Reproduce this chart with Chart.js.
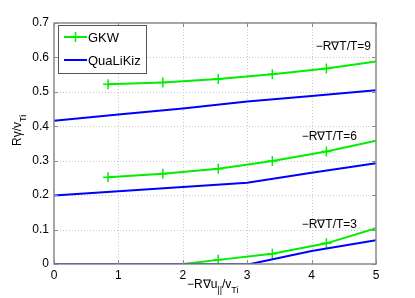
<!DOCTYPE html>
<html lang="en">
<head>
<meta charset="UTF-8">
<title>Growth rate vs rotation shear</title>
<script src="https://cdn.jsdelivr.net/npm/chart.js"></script>
<style>
  body { margin: 0; padding: 0; background: #fff; }
  #wrap { width: 415px; height: 298px; }
</style>
</head>
<body>
<div id="wrap"><canvas id="myChart"></canvas></div>
<script>
// axis ticks
const xTicks = [0, 1, 2, 3, 4, 5];
const yTicks = [0, 0.1, 0.2, 0.3, 0.4, 0.5, 0.6, 0.7];

// GKW (green, + markers)
const gkw9X = [0.84, 1.69, 2.55, 3.39, 4.23, 5.0];
const gkw9Y = [0.522, 0.527, 0.537, 0.551, 0.568, 0.588];
const gkw6X = [0.84, 1.69, 2.55, 3.39, 4.23, 5.0];
const gkw6Y = [0.252, 0.262, 0.277, 0.299, 0.327, 0.358];
const gkw3X = [2.0, 2.55, 3.39, 4.23, 5.0];
const gkw3Y = [0, 0.012, 0.030, 0.060, 0.104];

// QuaLiKiz (blue)
const qlk9X = [0, 1, 2, 3, 4, 5];
const qlk9Y = [0.416, 0.434, 0.452, 0.472, 0.488, 0.505];
const qlk6X = [0, 1, 2, 3, 4, 5];
const qlk6Y = [0.199, 0.211, 0.224, 0.236, 0.265, 0.293];
const qlk3X = [0, 1, 2, 3.05, 4, 5];
const qlk3Y = [0, 0, 0, 0, 0.038, 0.069];

const seriesLabels = ['GKW', 'QuaLiKiz'];
const curveLabels = ['\u2212R\u2207T/T=9', '\u2212R\u2207T/T=6', '\u2212R\u2207T/T=3'];

const green = '#00ee00';
const blue = '#0000ff';
const FONT = '"Liberation Sans", Arial, sans-serif';

const pts = (xs, ys) => xs.map((x, i) => ({ x: x, y: ys[i] }));

function gkwSet(xs, ys) {
    return {
        label: seriesLabels[0],
        data: pts(xs, ys),
        borderColor: green,
        backgroundColor: green,
        borderWidth: 2,
        pointStyle: 'cross',
        // no marker where the curve is cut by the frame or sits on zero
        pointRadius: ctx => (ctx.raw && (ctx.raw.x >= 5 || ctx.raw.y === 0)) ? 0 : 5,
        pointBorderWidth: 1.5,
        tension: 0,
        order: 2
    };
}
function qlkSet(xs, ys) {
    return {
        label: seriesLabels[1],
        data: pts(xs, ys),
        borderColor: blue,
        backgroundColor: blue,
        borderWidth: 2,
        pointRadius: 0,
        tension: 0,
        order: 1
    };
}

// grid, frame, inward ticks, tick labels, axis titles, annotations, legend
const decor = {
    id: 'decor',
    beforeDatasetsDraw(chart) {
        const { ctx, chartArea: a, scales: { x, y } } = chart;
        ctx.save();
        ctx.strokeStyle = '#c8c8c8';
        ctx.lineWidth = 1;
        ctx.setLineDash([1, 2]);
        xTicks.forEach(v => {
            const px = Math.round(x.getPixelForValue(v)) + 0.5;
            if (v === 0 || v === 5) return;
            ctx.beginPath(); ctx.moveTo(px, a.top); ctx.lineTo(px, a.bottom); ctx.stroke();
        });
        yTicks.forEach(v => {
            const py = Math.round(y.getPixelForValue(v)) + 0.5;
            if (v === 0 || v === 0.7) return;
            ctx.beginPath(); ctx.moveTo(a.left, py); ctx.lineTo(a.right, py); ctx.stroke();
        });
        ctx.restore();
    },
    afterDatasetsDraw(chart) {
        const { ctx, chartArea: a, scales: { x, y } } = chart;
        ctx.save();
        // frame
        ctx.strokeStyle = '#8a8a8a';
        ctx.lineWidth = 1.5;
        ctx.strokeRect(a.left, a.top, a.right - a.left, a.bottom - a.top);
        // inward ticks
        ctx.lineWidth = 1;
        ctx.beginPath();
        xTicks.forEach(v => {
            const px = Math.round(x.getPixelForValue(v)) + 0.5;
            ctx.moveTo(px, a.bottom); ctx.lineTo(px, a.bottom - 4);
            ctx.moveTo(px, a.top); ctx.lineTo(px, a.top + 4);
        });
        yTicks.forEach(v => {
            const py = Math.round(y.getPixelForValue(v)) + 0.5;
            ctx.moveTo(a.left, py); ctx.lineTo(a.left + 4, py);
            ctx.moveTo(a.right, py); ctx.lineTo(a.right - 4, py);
        });
        ctx.stroke();

        // tick labels
        ctx.fillStyle = '#000';
        ctx.font = '12px ' + FONT;
        ctx.textAlign = 'center';
        ctx.textBaseline = 'top';
        xTicks.forEach(v => ctx.fillText(String(v), x.getPixelForValue(v), a.bottom + 6));
        ctx.textAlign = 'right';
        ctx.textBaseline = 'middle';
        yTicks.forEach(v => ctx.fillText(v === 0 ? '0' : v.toFixed(1), a.left - 5, y.getPixelForValue(v)));

        // curve annotations
        ctx.textAlign = 'right';
        ctx.textBaseline = 'alphabetic';
        ctx.fillText(curveLabels[0], a.right - 5, 50);
        ctx.fillText(curveLabels[1], a.right - 19, 140);
        ctx.fillText(curveLabels[2], a.right - 19, 228);

        // legend box
        const lx = 58, ly = 25, lw = 88, lh = 48;
        ctx.fillStyle = '#fff';
        ctx.fillRect(lx, ly, lw, lh);
        ctx.strokeStyle = '#555';
        ctx.lineWidth = 1;
        ctx.strokeRect(lx + 0.5, ly + 0.5, lw, lh);
        const rows = [{ c: green, t: seriesLabels[0], y: 37, m: true }, { c: blue, t: seriesLabels[1], y: 60, m: false }];
        rows.forEach(r => {
            ctx.strokeStyle = r.c;
            ctx.lineWidth = 2;
            ctx.beginPath(); ctx.moveTo(64, r.y); ctx.lineTo(87, r.y); ctx.stroke();
            if (r.m) {
                ctx.lineWidth = 1.5;
                ctx.beginPath();
                ctx.moveTo(75.5, r.y - 5); ctx.lineTo(75.5, r.y + 5);
                ctx.moveTo(70.5, r.y); ctx.lineTo(80.5, r.y);
                ctx.stroke();
            }
            ctx.fillStyle = '#000';
            ctx.textAlign = 'left';
            ctx.textBaseline = 'middle';
            ctx.font = '13px ' + FONT;
            ctx.fillText(r.t, 88, r.y + 1);
        });

        // x axis title: −R∇u||/vTi
        ctx.textBaseline = 'alphabetic';
        ctx.textAlign = 'left';
        let cx = 187;
        const base = 288;
        const part = (t, size, dy) => {
            ctx.font = size + 'px ' + FONT;
            ctx.fillText(t, cx, base + dy);
            cx += ctx.measureText(t).width;
        };
        part('\u2212R\u2207u', 12, 0);
        part('||', 9, 5);
        part('/v', 12, 0);
        part('Ti', 9, 5);

        // y axis title: Rγ/vTi (rotated)
        ctx.translate(21, 146);
        ctx.rotate(-Math.PI / 2);
        let cy = 0;
        const vpart = (t, size, dy) => {
            ctx.font = size + 'px ' + FONT;
            ctx.fillText(t, cy, dy);
            cy += ctx.measureText(t).width;
        };
        vpart('R\u03b3/v', 12, 0);
        vpart('Ti', 9, 5);
        ctx.restore();
    }
};

const ctx = document.getElementById('myChart').getContext('2d');
new Chart(ctx, {
    type: 'line',
    data: {
        datasets: [
            gkwSet(gkw9X, gkw9Y), gkwSet(gkw6X, gkw6Y), gkwSet(gkw3X, gkw3Y),
            qlkSet(qlk9X, qlk9Y), qlkSet(qlk6X, qlk6Y), qlkSet(qlk3X, qlk3Y)
        ]
    },
    options: {
        responsive: true,
        maintainAspectRatio: false,
        animation: false,
        layout: { padding: { left: 0, right: 39, top: 23, bottom: 0 } },
        plugins: { legend: { display: false }, tooltip: { enabled: false } },
        scales: {
            x: {
                type: 'linear',
                min: 0, max: 5,
                afterBuildTicks: s => { s.ticks = xTicks.map(v => ({ value: v })); },
                afterFit: s => { s.height = 34; },
                grid: { display: false },
                border: { display: false },
                ticks: { display: false }
            },
            y: {
                min: 0, max: 0.7,
                afterBuildTicks: s => { s.ticks = yTicks.map(v => ({ value: v })); },
                afterFit: s => { s.width = 54; },
                grid: { display: false },
                border: { display: false },
                ticks: { display: false }
            }
        }
    },
    plugins: [decor]
});
</script>
</body>
</html>
